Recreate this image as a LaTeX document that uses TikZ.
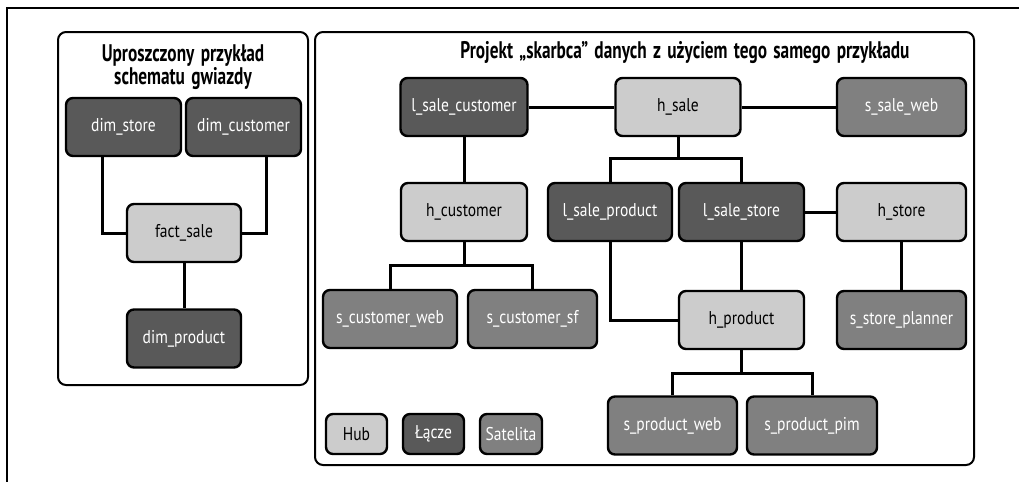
\documentclass[tikz,border=0pt]{standalone}
\usepackage{fontspec}
\setmainfont{PT Sans}[FakeStretch=0.84]
\newfontfamily\headfont{PT Sans}[FakeStretch=0.72, WordSpace=1.45]
\usetikzlibrary{backgrounds}
\definecolor{hubgray}{HTML}{CCCCCC}
\definecolor{linkgray}{HTML}{595959}
\definecolor{satgray}{HTML}{808080}
\tikzset{
  box/.style={rectangle, rounded corners=7pt, draw=black, line width=2.4pt,
    minimum height=58pt, inner sep=0pt, font=\fontsize{18.5}{21}\selectfont},
  hub/.style={box, fill=hubgray, text=black},
  lnk/.style={box, fill=linkgray, text=white},
  sat/.style={box, fill=satgray, text=white},
  leg/.style={minimum height=40pt},
  wire/.style={line width=3pt},
  panel/.style={draw=black, line width=2pt, rounded corners=8pt},
  heading/.style={font=\headfont\bfseries\fontsize{24}{23}\selectfont, align=center},
}
\begin{document}
\begin{tikzpicture}[x=1pt, y=-1pt]
\useasboundingbox (0,0) rectangle (1019,482);
% outer frame (top and left sides)
\draw[line width=2.2pt] (1019,8) -- (7,8) -- (7,482);

% ---- star schema panel ----
\draw[panel] (58,32) rectangle (308,385);
\node[heading] (startitle) at (183,67) {Uproszczony przykład\\schematu gwiazdy};
\node[lnk, minimum width=115pt] (dimstore) at (123.5,127) {dim\_store};
\node[lnk, minimum width=115pt] (dimcust) at (243.5,127) {dim\_customer};
\node[hub, minimum width=114pt] (fact) at (184,233) {fact\_sale};
\node[lnk, minimum width=114pt] (dimprod) at (184,338.5) {dim\_product};

% ---- data vault panel ----
\draw[panel] (315,32) rectangle (974,465);
\node[heading] (vaulttitle) at (685,53) {Projekt „skarbca” danych z użyciem tego samego przykładu};

\node[lnk, minimum width=127pt] (lsc) at (464,107) {l\_sale\_customer};
\node[hub, minimum width=125pt] (hsale) at (678,107) {h\_sale};
\node[sat, minimum width=129pt] (ssw) at (901.5,107) {s\_sale\_web};

\node[hub, minimum width=126pt] (hcust) at (464,212) {h\_customer};
\node[lnk, minimum width=124pt] (lsp) at (610,212) {l\_sale\_product};
\node[lnk, minimum width=125pt] (lss) at (741.5,212) {l\_sale\_store};
\node[hub, minimum width=129pt] (hstore) at (901.5,212) {h\_store};

\node[sat, minimum width=134pt] (scw) at (390,319) {s\_customer\_web};
\node[sat, minimum width=129pt] (scsf) at (532.5,319) {s\_customer\_sf};
\node[hub, minimum width=125pt] (hprod) at (741.5,320) {h\_product};
\node[sat, minimum width=129pt] (ssp) at (901.5,320) {s\_store\_planner};

\node[sat, minimum width=129pt] (spw) at (672.5,425.5) {s\_product\_web};
\node[sat, minimum width=130pt] (spp) at (812,425.5) {s\_product\_pim};

% legend
\node[hub, leg, minimum width=61pt] (leghub) at (356.5,434) {Hub};
\node[lnk, leg, minimum width=61pt] (leglink) at (433.5,434) {Łącze};
\node[sat, leg, minimum width=62pt] (legsat) at (511,434) {Satelita};

% junction points of the branching connectors
\coordinate (jsale) at (678,158);
\coordinate (jcust) at (464,265);
\coordinate (jprod) at (741.5,373);

\begin{pgfonlayer}{background}
  % star schema
  \draw[wire] ([xshift=-21.5pt]dimstore.center) |- (fact);
  \draw[wire] ([xshift=22.5pt]dimcust.center) |- (fact);
  \draw[wire] (fact) -- (dimprod);
  % data vault
  \draw[wire] (lsc) -- (hsale) -- (ssw);
  \draw[wire] (lsc) -- (hcust);
  \draw[wire] (hsale) -- (jsale);
  \draw[wire] (lsp) |- (jsale) -| (lss);
  \draw[wire] (lss) -- (hstore);
  \draw[wire] (hstore) -- (ssp);
  \draw[wire] (hcust) -- (jcust);
  \draw[wire] (scw) |- (jcust) -| (scsf);
  \draw[wire] (lsp) |- (hprod);
  \draw[wire] (lss) -- (hprod);
  \draw[wire] (hprod) -- (jprod);
  \draw[wire] (spw) |- (jprod) -| (spp);
\end{pgfonlayer}
\end{tikzpicture}
\end{document}
